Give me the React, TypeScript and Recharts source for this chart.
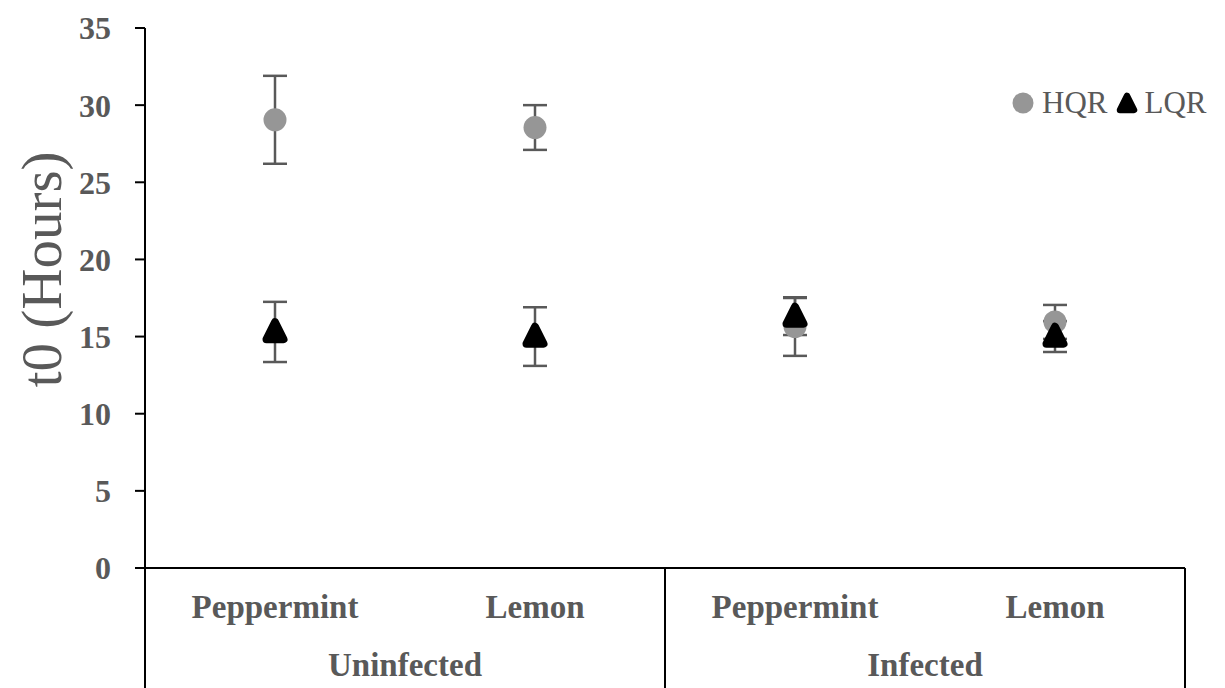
import React from 'react'
import { ComposedChart, Line, XAxis, YAxis, ErrorBar, Legend } from 'recharts'

const categories = ['Peppermint', 'Lemon', 'Peppermint', 'Lemon']
const groups = ['Uninfected', 'Uninfected', 'Infected', 'Infected']
const hqrMean = [29.05, 28.55, 15.65, 15.95]
const hqrErr = [2.85, 1.45, 1.9, 1.1]
const lqrMean = [15.3, 15.0, 16.3, 15.0]
const lqrErr = [1.95, 1.9, 1.2, 1.0]
const yTicks = [0, 5, 10, 15, 20, 25, 30, 35]

const CHART_W = 1225
const CHART_H = 688
const MARGIN = { top: 28, right: 40, left: 0, bottom: 0 }
const Y_AXIS_W = 145
const X_AXIS_H = 120
const BAND = (CHART_W - MARGIN.left - MARGIN.right - Y_AXIS_W) / categories.length

const TEXT = '#595959'
const HQR_COLOR = '#969696'
const LQR_COLOR = '#000000'
const FONT = '"Liberation Serif", "Times New Roman", serif'

const data = categories.map((cat, i) => ({
  key: `${groups[i]}-${cat}`,
  cat,
  group: groups[i],
  hqr: hqrMean[i],
  hqrErr: hqrErr[i],
  lqr: lqrMean[i],
  lqrErr: lqrErr[i],
}))

const CircleDot = (props: any) => {
  const { cx, cy } = props
  if (cx == null || cy == null) return null
  return <circle cx={cx} cy={cy} r={11.5} fill={HQR_COLOR} />
}

const triPath = (cx: number, cy: number, s: number) =>
  `M${cx},${cy - s * 1.15} L${cx + s},${cy + s * 0.85} L${cx - s},${cy + s * 0.85} Z`

const TriangleDot = (props: any) => {
  const { cx, cy } = props
  if (cx == null || cy == null) return null
  return (
    <path
      d={triPath(cx, cy, 8.5)}
      fill={LQR_COLOR}
      stroke={LQR_COLOR}
      strokeWidth={8}
      strokeLinejoin="round"
    />
  )
}

// category labels, group labels and the divider lines under the axis
const CategoryTick = (props: any) => {
  const { x, y, index } = props
  const row = data[index]
  if (!row) return null
  const isGroupStart = index === 0 || groups[index - 1] !== row.group
  const isGroupEnd = index === data.length - 1 || groups[index + 1] !== row.group
  let groupCount = 1
  for (let j = index - 1; j >= 0 && groups[j] === row.group; j--) groupCount++
  return (
    <g>
      <text
        x={x}
        y={y + 50}
        textAnchor="middle"
        fontFamily={FONT}
        fontWeight="bold"
        fontSize={33}
        fill={TEXT}
      >
        {row.cat}
      </text>
      {isGroupEnd && (
        <text
          x={x - ((groupCount - 1) * BAND) / 2}
          y={y + 108}
          textAnchor="middle"
          fontFamily={FONT}
          fontWeight="bold"
          fontSize={33}
          fill={TEXT}
        >
          {row.group}
        </text>
      )}
      {isGroupStart && (
        <line x1={x - BAND / 2} x2={x - BAND / 2} y1={y} y2={y + X_AXIS_H} stroke="#000" strokeWidth={2} />
      )}
      {index === data.length - 1 && (
        <line x1={x + BAND / 2} x2={x + BAND / 2} y1={y} y2={y + X_AXIS_H} stroke="#000" strokeWidth={2} />
      )}
    </g>
  )
}

const YLabel = (props: any) => {
  const { viewBox } = props
  const cx = viewBox.x + 42
  const cy = viewBox.y + viewBox.height * 0.447
  return (
    <text
      x={cx}
      y={cy}
      transform={`rotate(-90, ${cx}, ${cy})`}
      textAnchor="middle"
      dominantBaseline="central"
      fontFamily={FONT}
      fontSize={57}
      fill={TEXT}
    >
      t0 (Hours)
    </text>
  )
}

const renderLegend = () => (
  <div
    style={{
      display: 'flex',
      alignItems: 'center',
      fontFamily: FONT,
      fontSize: 31,
      color: TEXT,
      whiteSpace: 'nowrap',
    }}
  >
    <svg width={24} height={24} style={{ marginRight: 7 }}>
      <circle cx={12} cy={12} r={10.5} fill={HQR_COLOR} />
    </svg>
    <span>HQR</span>
    <svg width={24} height={26} style={{ marginLeft: 8, marginRight: 5 }}>
      <path d={triPath(12, 14, 7)} fill={LQR_COLOR} stroke={LQR_COLOR} strokeWidth={6.5} strokeLinejoin="round" />
    </svg>
    <span>LQR</span>
  </div>
)

export default function App() {
  return (
    <div style={{ position: 'absolute', left: 0, top: 0, background: '#fff' }}>
      <ComposedChart width={CHART_W} height={CHART_H} data={data} margin={MARGIN}>
        <XAxis
          dataKey="key"
          type="category"
          scale="band"
          height={X_AXIS_H}
          axisLine={{ stroke: '#000', strokeWidth: 2 }}
          tickLine={false}
          tickSize={0}
          tickMargin={0}
          interval={0}
          tick={<CategoryTick />}
        />
        <YAxis
          type="number"
          domain={[0, 35]}
          ticks={yTicks}
          interval={0}
          width={Y_AXIS_W}
          axisLine={{ stroke: '#000', strokeWidth: 2 }}
          tickLine={{ stroke: '#000', strokeWidth: 2 }}
          tickSize={10}
          tickMargin={24}
          tick={{ fill: TEXT, fontSize: 32, fontWeight: 'bold', fontFamily: FONT }}
          label={<YLabel />}
        />
        <Legend
          layout="horizontal"
          verticalAlign="middle"
          align="center"
          content={renderLegend}
          wrapperStyle={{ top: 85, left: 1011, width: 'auto', height: 'auto' }}
        />
        <Line
          dataKey="hqr"
          name="HQR"
          stroke="none"
          dot={<CircleDot />}
          activeDot={false}
          isAnimationActive={false}
        >
          <ErrorBar dataKey="hqrErr" direction="y" width={12} stroke={TEXT} strokeWidth={2.5} />
        </Line>
        <Line
          dataKey="lqr"
          name="LQR"
          stroke="none"
          dot={<TriangleDot />}
          activeDot={false}
          isAnimationActive={false}
        >
          <ErrorBar dataKey="lqrErr" direction="y" width={12} stroke={TEXT} strokeWidth={2.5} />
        </Line>
      </ComposedChart>
    </div>
  )
}
